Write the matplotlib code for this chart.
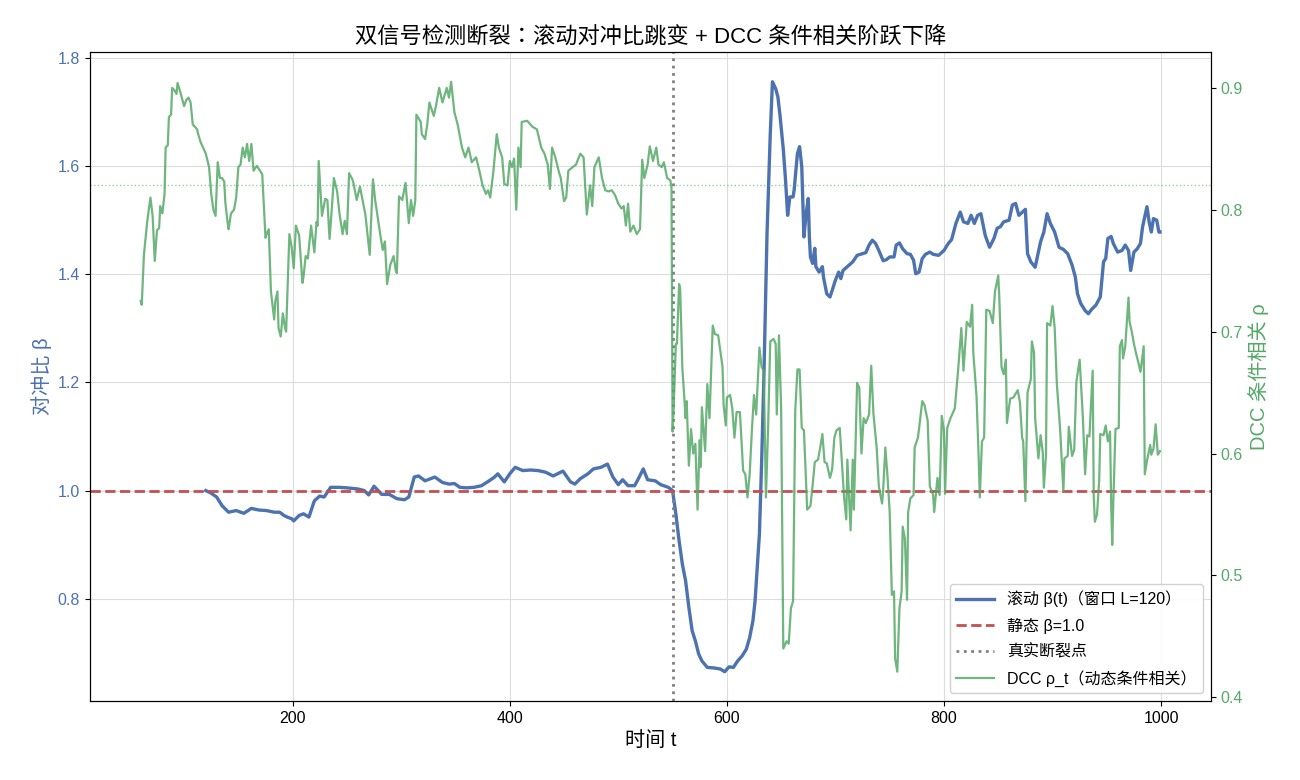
import numpy as np
import matplotlib.pyplot as plt

plt.rcParams['font.family'] = ['Liberation Sans', 'Noto Sans CJK TC', 'DejaVu Sans']
plt.rcParams['axes.unicode_minus'] = False

# 滚动对冲比 β(t)
beta_t = [120, 125, 130, 135, 141, 148, 155, 162, 169, 176, 183, 188, 192, 195, 199, 201, 206, 210, 215, 220,
          225, 229, 235, 243, 250, 260, 266, 270, 275, 282, 289, 296, 303, 307, 312, 316, 322, 331, 338, 344,
          349, 354, 360, 367, 374, 381, 386, 389, 395, 400, 405, 412, 419, 426, 433, 440, 449, 456, 460, 465,
          472, 477, 484, 490, 495, 500, 504, 509, 515, 518, 523, 527, 534, 539, 546, 550,
          553, 556, 559, 562, 565, 568, 571, 574, 577, 582, 588, 594, 598, 602, 606, 610, 614, 618, 621, 624,
          626, 628, 630, 632, 634, 637, 640, 642, 645, 647, 649, 652, 654, 656, 658, 661, 662, 665, 667, 669,
          671, 673, 675, 676, 677, 679, 681, 682, 685, 688, 689, 692, 695, 697, 700, 703, 705, 707, 711, 716,
          720, 725, 728, 731, 734, 737, 740, 744, 747, 750, 754, 756, 759, 762, 766, 769, 772, 774, 777, 780,
          783, 787, 790, 795, 800, 804, 807, 811, 815, 818, 822, 825, 828, 831, 834, 838, 842, 846, 849, 852,
          855, 860, 863, 866, 869, 875, 877, 880, 884, 889, 892, 895, 898, 902, 906, 910, 914, 918, 921, 923,
          926, 930, 933, 936, 940, 944, 947, 949, 951, 954, 956, 960, 964, 967, 970, 972, 975, 978, 981, 983,
          987, 989, 991, 993, 996, 998, 999]
beta_v = [1.0, 0.995, 0.988, 0.972, 0.96, 0.963, 0.958, 0.967, 0.964, 0.963, 0.96, 0.96, 0.954, 0.951, 0.948,
          0.944, 0.954, 0.957, 0.951, 0.981, 0.99, 0.988, 1.006, 1.006, 1.005, 1.003, 1.0, 0.992, 1.008, 0.993,
          0.993, 0.985, 0.983, 0.988, 1.025, 1.027, 1.018, 1.025, 1.015, 1.012, 1.013, 1.006, 1.005, 1.006,
          1.009, 1.018, 1.025, 1.031, 1.016, 1.031, 1.043, 1.037, 1.038, 1.037, 1.034, 1.027, 1.036, 1.016,
          1.012, 1.022, 1.031, 1.04, 1.043, 1.049, 1.025, 1.011, 1.02, 1.009, 1.009, 1.02, 1.04, 1.02, 1.018,
          1.011, 1.006, 1.0,
          0.957, 0.907, 0.864, 0.833, 0.784, 0.741, 0.722, 0.698, 0.685, 0.673, 0.672, 0.67, 0.665, 0.674,
          0.673, 0.685, 0.694, 0.707, 0.728, 0.759, 0.796, 0.858, 0.92, 1.05, 1.2, 1.475, 1.66, 1.756, 1.743,
          1.728, 1.693, 1.631, 1.576, 1.509, 1.543, 1.543, 1.556, 1.623, 1.636, 1.599, 1.469, 1.512, 1.54,
          1.469, 1.432, 1.42, 1.448, 1.414, 1.404, 1.414, 1.395, 1.364, 1.358, 1.37, 1.389, 1.404, 1.392,
          1.407, 1.414, 1.423, 1.435, 1.438, 1.44, 1.454, 1.463, 1.457, 1.444, 1.425, 1.427, 1.432, 1.432,
          1.454, 1.458, 1.447, 1.438, 1.437, 1.426, 1.401, 1.404, 1.429, 1.437, 1.441, 1.437, 1.435, 1.444,
          1.457, 1.464, 1.494, 1.515, 1.497, 1.494, 1.509, 1.494, 1.509, 1.512, 1.472, 1.45, 1.466, 1.485,
          1.488, 1.497, 1.5, 1.528, 1.531, 1.509, 1.52, 1.438, 1.423, 1.413, 1.46, 1.478, 1.512, 1.494, 1.478,
          1.45, 1.446, 1.438, 1.417, 1.395, 1.364, 1.346, 1.333, 1.327, 1.335, 1.343, 1.358, 1.423, 1.429,
          1.466, 1.47, 1.457, 1.441, 1.444, 1.454, 1.444, 1.407, 1.441, 1.447, 1.457, 1.488, 1.525, 1.497,
          1.478, 1.503, 1.5, 1.478, 1.478]

# DCC 动态条件相关 ρ_t
rho_t = [60, 61, 63, 66, 69, 71, 73, 75, 77, 78, 80, 82, 83, 85, 86, 88, 89, 91, 93, 94, 97, 100, 102, 104,
         106, 108, 110, 112, 113, 115, 118, 120, 123, 125, 127, 129, 131, 133, 135, 137, 138, 140, 141, 143,
         144, 146, 148, 150, 152, 154, 156, 157, 158, 160, 162, 164, 167, 170, 172, 175, 176, 178, 180, 183,
         184, 186, 187, 189, 191, 193, 194, 197, 199, 201, 203, 206, 209, 210, 212, 214, 217, 220, 222, 223,
         224, 227, 230, 232, 234, 236, 238, 241, 243, 246, 248, 250, 252, 255, 256, 259, 262, 265, 267, 271,
         273, 274, 276, 279, 281, 283, 285, 287, 290, 293, 295, 296, 298, 301, 304, 307, 309, 311, 313, 314,
         318, 319, 322, 324, 326, 330, 332, 335, 338, 342, 344, 346, 349, 352, 356, 359, 362, 365, 369, 372,
         375, 378, 380, 382, 385, 388, 390, 393, 395, 398, 400, 402, 404, 406, 408, 410, 411, 416, 421, 425,
         429, 432, 435, 437, 439, 442, 445, 447, 450, 452, 454, 458, 461, 465, 468, 471, 474, 476, 478, 482,
         485, 488, 491, 494, 497, 500, 503, 505, 507, 509, 511, 514, 517, 520, 522, 524, 527, 529, 532, 535,
         537, 540, 542, 545, 548, 549,
         550, 551, 553, 554, 556, 557, 559, 560, 562, 563, 564, 565, 567, 569, 571, 573, 575, 576, 577, 580,
         582, 584, 587, 589, 592, 596, 597, 599, 600, 603, 605, 607, 609, 612, 615, 617, 619, 621, 623, 625,
         627, 630, 632, 634, 636, 638, 640, 643, 645, 646, 648, 650, 652, 655, 657, 659, 661, 663, 665, 667,
         669, 671, 674, 677, 679, 681, 684, 686, 688, 690, 692, 695, 697, 699, 701, 704, 706, 708, 710, 711,
         714, 716, 717, 720, 722, 724, 726, 728, 731, 733, 735, 738, 740, 743, 744, 746, 748, 750, 752, 754,
         755, 757, 759, 761, 762, 764, 766, 767, 769, 772, 773, 776, 777, 780, 782, 785, 787, 790, 791, 794,
         796, 798, 800, 801, 803, 806, 810, 813, 816, 818, 821, 824, 826, 827, 830, 832, 833, 835, 837, 839,
         842, 845, 847, 850, 851, 853, 855, 857, 858, 861, 864, 868, 870, 872, 873, 875, 877, 880, 881, 883,
         884, 887, 889, 891, 892, 894, 895, 898, 900, 902, 904, 907, 910, 911, 914, 915, 918, 920, 922, 925,
         928, 930, 932, 934, 937, 938, 939, 941, 943, 944, 947, 949, 951, 953, 954, 955, 956, 958, 961, 962,
         964, 965, 967, 970, 971, 973, 975, 977, 979, 981, 984, 985, 987, 990, 991, 993, 995, 997, 999]
rho_v = [0.725, 0.722, 0.763, 0.79, 0.81, 0.795, 0.758, 0.783, 0.785, 0.803, 0.797, 0.813, 0.851, 0.853, 0.876,
         0.878, 0.9, 0.898, 0.895, 0.904, 0.895, 0.885, 0.89, 0.892, 0.888, 0.87, 0.868, 0.866, 0.862, 0.856,
         0.85, 0.846, 0.835, 0.813, 0.8, 0.795, 0.839, 0.826, 0.826, 0.823, 0.806, 0.79, 0.784, 0.796, 0.798,
         0.8, 0.81, 0.835, 0.837, 0.851, 0.843, 0.848, 0.854, 0.84, 0.854, 0.832, 0.836, 0.832, 0.829, 0.777,
         0.78, 0.784, 0.733, 0.71, 0.725, 0.733, 0.703, 0.696, 0.715, 0.703, 0.7, 0.78, 0.77, 0.752, 0.787,
         0.779, 0.74, 0.745, 0.762, 0.76, 0.787, 0.765, 0.79, 0.787, 0.84, 0.795, 0.809, 0.808, 0.776, 0.8,
         0.826, 0.815, 0.798, 0.78, 0.791, 0.78, 0.83, 0.825, 0.822, 0.808, 0.819, 0.805, 0.796, 0.763, 0.806,
         0.825, 0.808, 0.79, 0.778, 0.767, 0.774, 0.739, 0.755, 0.762, 0.75, 0.748, 0.811, 0.808, 0.822, 0.789,
         0.808, 0.795, 0.808, 0.878, 0.872, 0.862, 0.858, 0.87, 0.888, 0.877, 0.885, 0.9, 0.888, 0.9, 0.892,
         0.905, 0.88, 0.87, 0.851, 0.843, 0.851, 0.839, 0.843, 0.832, 0.82, 0.813, 0.816, 0.81, 0.832, 0.862,
         0.851, 0.843, 0.821, 0.82, 0.84, 0.835, 0.842, 0.8, 0.851, 0.835, 0.872, 0.873, 0.868, 0.866, 0.851,
         0.846, 0.837, 0.817, 0.851, 0.843, 0.832, 0.826, 0.807, 0.81, 0.832, 0.835, 0.837, 0.846, 0.843,
         0.796, 0.82, 0.803, 0.835, 0.843, 0.826, 0.816, 0.815, 0.816, 0.812, 0.805, 0.801, 0.803, 0.787,
         0.805, 0.782, 0.787, 0.78, 0.784, 0.841, 0.826, 0.837, 0.852, 0.84, 0.851, 0.837, 0.835, 0.839, 0.826,
         0.824, 0.818,
         0.618, 0.637, 0.69, 0.69, 0.739, 0.735, 0.67, 0.657, 0.629, 0.643, 0.616, 0.59, 0.62, 0.6, 0.608,
         0.554, 0.611, 0.589, 0.638, 0.602, 0.657, 0.629, 0.705, 0.698, 0.697, 0.671, 0.64, 0.623, 0.646,
         0.648, 0.637, 0.613, 0.634, 0.634, 0.586, 0.583, 0.564, 0.583, 0.618, 0.648, 0.632, 0.687, 0.671,
         0.668, 0.564, 0.621, 0.692, 0.694, 0.69, 0.632, 0.697, 0.637, 0.44, 0.446, 0.444, 0.473, 0.479, 0.635,
         0.669, 0.669, 0.621, 0.619, 0.554, 0.557, 0.574, 0.593, 0.595, 0.605, 0.616, 0.593, 0.592, 0.58,
         0.587, 0.613, 0.619, 0.621, 0.592, 0.564, 0.546, 0.595, 0.537, 0.595, 0.554, 0.658, 0.654, 0.6,
         0.629, 0.625, 0.632, 0.672, 0.633, 0.605, 0.573, 0.559, 0.57, 0.605, 0.581, 0.552, 0.484, 0.487,
         0.432, 0.421, 0.473, 0.487, 0.54, 0.53, 0.48, 0.552, 0.563, 0.566, 0.605, 0.613, 0.62, 0.643, 0.64,
         0.627, 0.573, 0.566, 0.552, 0.58, 0.566, 0.631, 0.619, 0.567, 0.621, 0.629, 0.637, 0.668, 0.703,
         0.668, 0.708, 0.704, 0.722, 0.683, 0.647, 0.596, 0.564, 0.61, 0.613, 0.718, 0.717, 0.707, 0.733,
         0.746, 0.728, 0.671, 0.665, 0.677, 0.625, 0.645, 0.646, 0.652, 0.642, 0.613, 0.61, 0.561, 0.65,
         0.661, 0.692, 0.683, 0.629, 0.596, 0.615, 0.601, 0.572, 0.599, 0.707, 0.705, 0.721, 0.703, 0.657,
         0.62, 0.569, 0.596, 0.598, 0.622, 0.598, 0.603, 0.659, 0.677, 0.629, 0.583, 0.615, 0.614, 0.668,
         0.564, 0.544, 0.55, 0.578, 0.616, 0.615, 0.623, 0.61, 0.618, 0.56, 0.525, 0.56, 0.62, 0.621, 0.688,
         0.693, 0.678, 0.688, 0.728, 0.708, 0.7, 0.69, 0.682, 0.675, 0.667, 0.688, 0.583, 0.594, 0.607, 0.599,
         0.604, 0.624, 0.599, 0.602]

static_beta = 1.0
break_t = 550
rho_pre_mean = 0.82

c_beta = '#4C72B0'
c_rho = '#55A868'

fig, ax = plt.subplots(figsize=(13, 7.8), dpi=100)
fig.subplots_adjust(left=0.069, right=0.9315, top=0.933, bottom=0.101)

l1, = ax.plot(beta_t, beta_v, color=c_beta, lw=2.4, label='滚动 β(t)（窗口 L=120）')
l2 = ax.axhline(static_beta, color='#C44E52', ls='--', lw=2, label='静态 β=1.0')
l3 = ax.axvline(break_t, color='gray', ls=':', lw=2, label='真实断裂点')
ax.set_xlabel('时间 t', fontsize=14.5)
ax.set_ylabel('对冲比 β', color=c_beta, fontsize=14.5)
ax.tick_params(axis='both', labelsize=11.5)
ax.tick_params(axis='y', labelcolor=c_beta)
ax.grid(True, color='#dddddd', lw=0.8)

ax2 = ax.twinx()
l4, = ax2.plot(rho_t, rho_v, color=c_rho, lw=1.6, alpha=0.85, label='DCC ρ_t（动态条件相关）')
ax2.axhline(rho_pre_mean, color=c_rho, ls=':', lw=1, alpha=0.6)
ax2.set_ylabel('DCC 条件相关 ρ', color=c_rho, fontsize=14.5)
ax2.tick_params(axis='y', labelcolor=c_rho, labelsize=11.5)

ax2.legend(handles=[l1, l2, l3, l4], loc='lower right', fontsize=11.5, framealpha=0.9,
           labelspacing=0.65, handlelength=2.4)
ax.set_title('双信号检测断裂：滚动对冲比跳变 + DCC 条件相关阶跃下降', fontsize=16)

fig.savefig('out.png', dpi=100)
